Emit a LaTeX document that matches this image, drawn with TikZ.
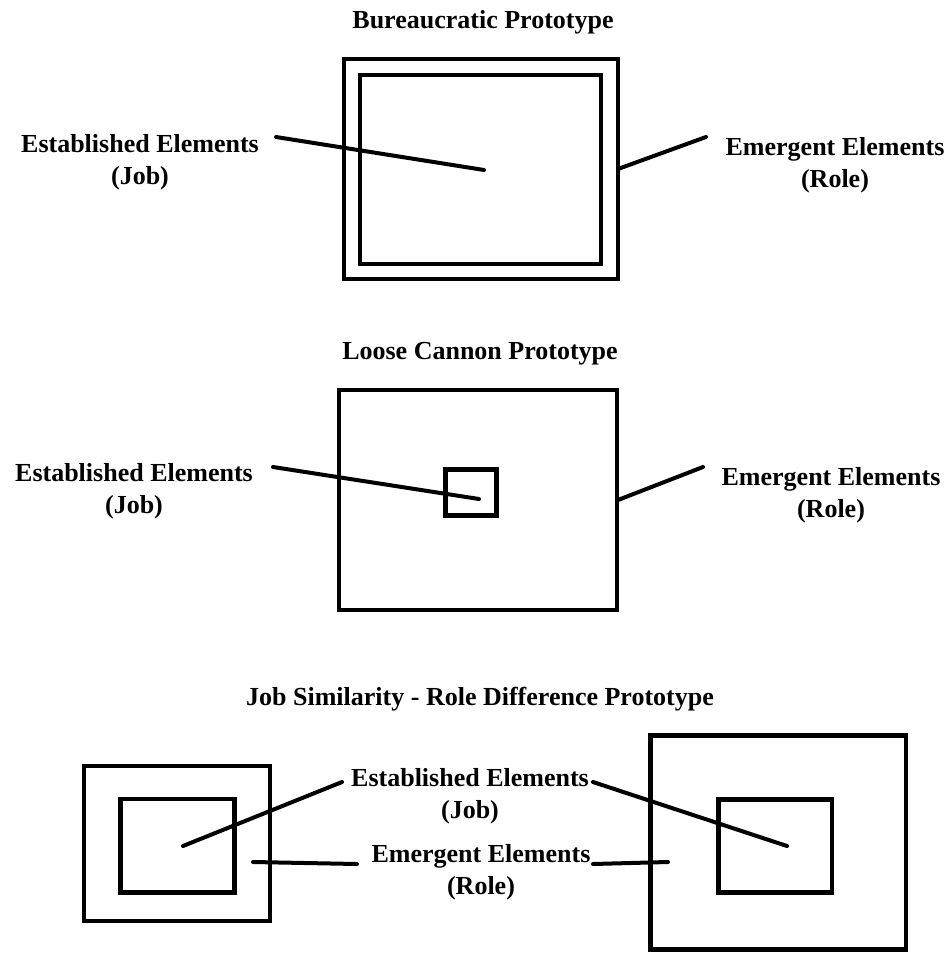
\documentclass[tikz,border=0pt]{standalone}
\usepackage{fontspec}
\setmainfont{Liberation Serif}
\begin{document}
\begin{tikzpicture}[x=1bp,y=-1bp,
  box/.style={draw, line width=4.5bp, inner sep=0pt, outer sep=0pt},
  conn/.style={line width=4bp, line cap=round},
  lbl/.style={font=\bfseries\fontsize{26bp}{32bp}\selectfont, align=center, inner sep=0pt},
  ttl/.style={font=\bfseries\fontsize{26bp}{32bp}\selectfont, inner sep=0pt}]
\useasboundingbox (0,0) rectangle (950,954);

% ---------- Panel 1: Bureaucratic Prototype ----------
\node[ttl] (t1) at (483,22) {Bureaucratic Prototype};
\node[box, minimum width=274bp, minimum height=220bp] (out1) at (481,169) {};
\node[box, minimum width=241bp, minimum height=189bp] (in1) at (480.5,169.5) {};
\node[lbl] (est1) at (140,162) {Established Elements\\(Job)};
\node[lbl] (emg1) at (835,165) {Emergent Elements\\(Role)};
\coordinate (e1a) at (276,137);
\coordinate (e1b) at (484,170);
\coordinate (m1a) at (706,137);
\coordinate (m1b) at (618,169);
\draw[conn] (e1a) -- (e1b);
\draw[conn] (m1a) -- (m1b);

% ---------- Panel 2: Loose Cannon Prototype ----------
\node[ttl] (t2) at (480,354) {Loose Cannon Prototype};
\node[box, minimum width=278bp, minimum height=220bp] (out2) at (478,500) {};
\node[box, minimum width=51bp, minimum height=46bp] (in2) at (471,492.5) {};
\node[lbl] (est2) at (134,491) {Established Elements\\(Job)};
\node[lbl] (emg2) at (831,495) {Emergent Elements\\(Role)};
\coordinate (e2a) at (273,467);
\coordinate (e2b) at (479,499);
\coordinate (m2a) at (703,467);
\coordinate (m2b) at (618,500);
\draw[conn] (e2a) -- (e2b);
\draw[conn] (m2a) -- (m2b);

% ---------- Panel 3: Job Similarity - Role Difference Prototype ----------
\node[ttl] (t3) at (480,699) {Job Similarity - Role Difference Prototype};
\node[box, minimum width=186bp, minimum height=155bp] (out3l) at (177,843.5) {};
\node[box, minimum width=114bp, minimum height=93.5bp] (in3l) at (177.5,845.75) {};
\node[box, minimum width=255.5bp, minimum height=214bp] (out3r) at (778,842.5) {};
\node[box, minimum width=113.5bp, minimum height=93bp] (in3r) at (775,846) {};
\node[lbl] (est3) at (470,796) {Established Elements\\(Job)};
\node[lbl] (emg3) at (481,872) {Emergent Elements\\(Role)};
\coordinate (e3l) at (342,782);
\coordinate (e3r) at (593,782);
\coordinate (e3le) at (183,846);
\coordinate (e3re) at (787,846);
\coordinate (m3l) at (357,864);
\coordinate (m3r) at (593,864);
\coordinate (m3le) at (253,862);
\coordinate (m3re) at (668,862);
\draw[conn] (e3l) -- (e3le);
\draw[conn] (e3r) -- (e3re);
\draw[conn] (m3l) -- (m3le);
\draw[conn] (m3r) -- (m3re);
\end{tikzpicture}
\end{document}
